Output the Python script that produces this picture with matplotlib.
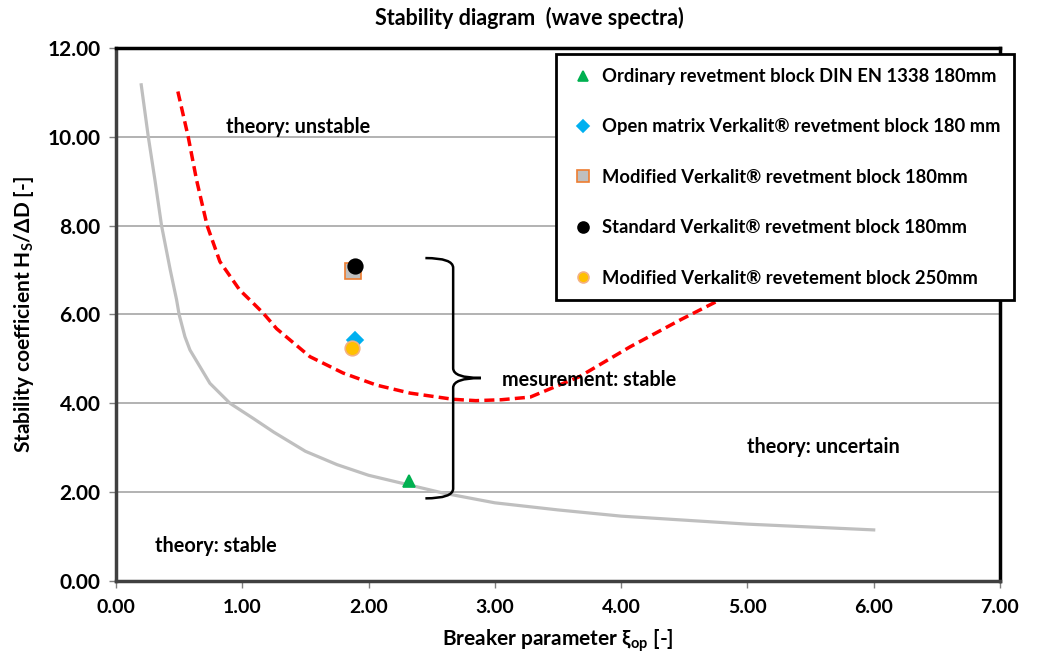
import numpy as np
import matplotlib
matplotlib.use("Agg")
import matplotlib.pyplot as plt
from matplotlib.path import Path
from matplotlib.patches import PathPatch

plt.rcParams['font.family'] = ['Lato', 'DejaVu Sans']
plt.rcParams['font.weight'] = 'bold'
plt.rcParams['mathtext.fontset'] = 'custom'
plt.rcParams['mathtext.rm'] = 'Lato:bold'
plt.rcParams['mathtext.it'] = 'Lato:bold'
plt.rcParams['mathtext.bf'] = 'Lato:bold'

# theory: stability limit (grey) and instability limit (red dashed)
stable_x = [0.2, 0.256, 0.31, 0.361, 0.43, 0.48, 0.5, 0.546, 0.586, 0.744, 0.903, 1.087,
            1.25, 1.5, 1.75, 2.0, 2.59, 3.0, 3.5, 4.0, 5.0, 6.0]
stable_y = [11.17, 10.0, 9.0, 8.0, 7.0, 6.33, 6.0, 5.5, 5.2, 4.45, 4.0, 3.66,
            3.35, 2.92, 2.62, 2.38, 1.98, 1.76, 1.6, 1.46, 1.28, 1.15]
unstable_x = [0.49, 0.572, 0.638, 0.722, 0.823, 0.98, 1.074, 1.166, 1.272, 1.536,
              1.8, 2.063, 2.328, 2.67, 2.85, 3.05, 3.28, 3.67, 4.07, 4.47, 4.81, 5.3]
unstable_y = [11.02, 10.0, 9.03, 8.0, 7.19, 6.55, 6.29, 6.03, 5.68, 5.05,
              4.68, 4.41, 4.23, 4.09, 4.06, 4.08, 4.14, 4.6, 5.27, 5.88, 6.37, 7.1]

# measurements
labels = ["Ordinary revetment block DIN EN 1338 180mm",
          "Open matrix Verkalit\u00ae revetment block 180 mm",
          "Modified Verkalit\u00ae revetment block 180mm",
          "Standard Verkalit\u00ae revetment block 180mm",
          "Modified Verkalit\u00ae revetement block 250mm"]
meas_x = [2.32, 1.89, 1.88, 1.89, 1.87]
meas_y = [2.24, 5.42, 6.98, 7.09, 5.25]
markers = ['^', 'D', 's', 'o', 'o']
faces = ['#00B050', '#00B0F0', '#BFBFBF', '#000000', '#FFC000']
edges = ['#00B050', '#00B0F0', '#ED7D31', '#000000', '#F4B183']
sizes = [9, 8, 12, 10.5, 10.5]

fig = plt.figure(figsize=(10.41, 6.57), dpi=100)
ax = fig.add_axes([0.1114, 0.1157, 0.8492, 0.8113])

ax.plot(stable_x, stable_y, color='#BFBFBF', lw=2.3, zorder=2)
ax.plot(unstable_x, unstable_y, color='#FF0000', lw=2.5, ls=(0, (2.9, 1.5)), zorder=2)

handles = []
for i in range(len(labels)):
    h, = ax.plot(meas_x[i], meas_y[i], ls='none', marker=markers[i],
                 ms=sizes[i], mfc=faces[i], mec=edges[i], mew=1.2, zorder=4,
                 label=labels[i])
    handles.append(h)

# curly brace around the measurements
bx, btop, bbot, btip, arm, dy = 2.67, 7.27, 1.86, 4.57, 0.22, 0.22
verts = [(bx - arm, btop), (bx, btop), (bx, btop - dy),
         (bx, btip + dy), (bx, btip), (bx + arm, btip),
         (bx, btip), (bx, btip - dy),
         (bx, bbot + dy), (bx, bbot), (bx - arm, bbot)]
codes = [Path.MOVETO, Path.CURVE3, Path.CURVE3,
         Path.LINETO, Path.CURVE3, Path.CURVE3,
         Path.CURVE3, Path.CURVE3,
         Path.LINETO, Path.CURVE3, Path.CURVE3]
ax.add_patch(PathPatch(Path(verts, codes), fill=False, ec='black', lw=1.8, zorder=3))

tfs = 14.3
ax.text(1.44, 10.23, "theory: unstable", ha='center', va='center', fontsize=tfs, fontweight='bold')
ax.text(3.06, 4.53, "mesurement: stable", ha='left', va='center', fontsize=tfs, fontweight='bold')
ax.text(5.6, 3.02, "theory: uncertain", ha='center', va='center', fontsize=tfs, fontweight='bold')
ax.text(0.79, 0.79, "theory: stable", ha='center', va='center', fontsize=tfs, fontweight='bold')

ax.set_xlim(0, 7)
ax.set_ylim(0, 12)
ax.set_xticks(np.arange(0, 7.01, 1))
ax.set_yticks(np.arange(0, 12.01, 2))
ax.xaxis.set_major_formatter(matplotlib.ticker.FormatStrFormatter('%.2f'))
ax.yaxis.set_major_formatter(matplotlib.ticker.FormatStrFormatter('%.2f'))
ax.tick_params(axis='x', labelsize=14, color='#808080', length=5, width=1, pad=8)
ax.tick_params(axis='y', labelsize=15, color='#808080', length=5, width=1, pad=6)
ax.grid(axis='y', color='#A6A6A6', lw=1.2)
ax.set_axisbelow(True)
for s in ['top', 'right']:
    ax.spines[s].set_linewidth(2.5)
    ax.spines[s].set_color('black')
for s in ['left', 'bottom']:
    ax.spines[s].set_linewidth(2.5)
    ax.spines[s].set_color('#404040')

ax.set_xlabel("Breaker parameter \u03be$_{\\mathrm{op}}$ [-]", fontsize=15,
              fontweight='bold', labelpad=8)
ax.set_ylabel("Stability coefficient H$_{\\mathrm{S}}$/\u0394D [-]", fontsize=15,
              fontweight='bold', labelpad=8)
fig.text(0.509, 0.972, "Stability diagram  (wave spectra)", ha='center', va='center',
         fontsize=15.5, fontweight='bold')

leg = ax.legend(handles=handles, loc='upper left', bbox_to_anchor=(0.498, 0.988),
                fontsize=13.2, frameon=True, fancybox=False, framealpha=1, labelspacing=1.82,
                handlelength=1.4, handletextpad=0.35, borderpad=0.75, borderaxespad=0,
                markerscale=0.75)
leg.get_frame().set_edgecolor('black')
leg.get_frame().set_linewidth(2)
leg.set_zorder(5)

fig.savefig('out.png', dpi=100, facecolor='white')
